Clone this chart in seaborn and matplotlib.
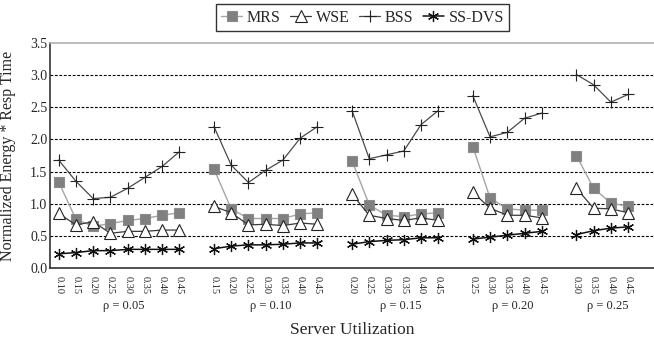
import numpy as np
import pandas as pd
import matplotlib
matplotlib.use("Agg")
import matplotlib.pyplot as plt
from matplotlib.lines import Line2D
from matplotlib.ticker import FixedLocator, NullFormatter
import seaborn as sns

# ---------------- data ----------------
groups = ["ρ = 0.05", "ρ = 0.10", "ρ = 0.15", "ρ = 0.20", "ρ = 0.25"]
utils = [
    [0.10, 0.15, 0.20, 0.25, 0.30, 0.35, 0.40, 0.45],
    [0.15, 0.20, 0.25, 0.30, 0.35, 0.40, 0.45],
    [0.20, 0.25, 0.30, 0.35, 0.40, 0.45],
    [0.25, 0.30, 0.35, 0.40, 0.45],
    [0.30, 0.35, 0.40, 0.45],
]
mrs = [
    [1.34, 0.76, 0.65, 0.69, 0.74, 0.77, 0.82, 0.86],
    [1.54, 0.92, 0.77, 0.77, 0.77, 0.84, 0.86],
    [1.67, 0.98, 0.82, 0.80, 0.84, 0.86],
    [1.89, 1.09, 0.92, 0.90, 0.90],
    [1.75, 1.24, 1.01, 0.96],
]
wse = [
    [0.85, 0.67, 0.72, 0.54, 0.57, 0.57, 0.59, 0.59],
    [0.96, 0.86, 0.67, 0.68, 0.66, 0.70, 0.68],
    [1.15, 0.82, 0.77, 0.74, 0.78, 0.74],
    [1.18, 0.93, 0.82, 0.82, 0.78],
    [1.24, 0.93, 0.92, 0.86],
]
bss = [
    [1.68, 1.35, 1.08, 1.10, 1.24, 1.41, 1.58, 1.81],
    [2.20, 1.60, 1.33, 1.52, 1.68, 2.02, 2.20],
    [2.45, 1.70, 1.76, 1.82, 2.23, 2.45],
    [2.68, 2.04, 2.11, 2.33, 2.41],
    [3.01, 2.85, 2.58, 2.70],
]
ssdvs = [
    [0.22, 0.24, 0.27, 0.27, 0.29, 0.29, 0.29, 0.29],
    [0.30, 0.34, 0.36, 0.36, 0.37, 0.39, 0.39],
    [0.37, 0.41, 0.43, 0.44, 0.47, 0.47],
    [0.45, 0.48, 0.51, 0.54, 0.57],
    [0.52, 0.58, 0.62, 0.64],
]
series_names = ["MRS", "WSE", "BSS", "SS-DVS"]
series_values = [mrs, wse, bss, ssdvs]

# ---------------- long-form table ----------------
rows = []
offset = 0
group_centers = []
for gi, (g, us) in enumerate(zip(groups, utils)):
    positions = [offset + k for k in range(len(us))]
    group_centers.append(np.mean(positions))
    for name, vals in zip(series_names, series_values):
        for p, u, v in zip(positions, us, vals[gi]):
            rows.append(dict(series=name, group=g, pos=p, util=u, value=v))
    offset += len(us) + 1  # one empty slot between groups
df = pd.DataFrame(rows)
n_slots = offset - 1

# ---------------- style ----------------
sns.set_style("white")
plt.rcParams["font.family"] = ["Liberation Serif", "DejaVu Serif"]

styles = {
    "MRS": dict(color="#a6a6a6", marker="s", markersize=7, markerfacecolor="#808080",
                markeredgecolor="#8c8c8c", markeredgewidth=0.8, linewidth=1.0),
    "WSE": dict(color="#3a3a3a", marker="^", markersize=9, markerfacecolor="white",
                markeredgecolor="#222222", markeredgewidth=0.8, linewidth=0.9),
    "BSS": dict(color="#4a4a4a", marker="+", markersize=9, markerfacecolor="none",
                markeredgecolor="#222222", markeredgewidth=0.8, linewidth=0.9),
    "SS-DVS": dict(color="#111111", marker=(6, 2, 0), markersize=8, markerfacecolor="none",
                   markeredgecolor="#111111", markeredgewidth=0.9, linewidth=1.1),
}

fig = plt.figure(figsize=(6.54, 3.47), dpi=100)
ax = fig.add_axes([50 / 654, 1 - 268 / 347, 1 - 50 / 654, (268 - 43) / 347])

for name in series_names:
    for g in groups:
        sub = df[(df.series == name) & (df.group == g)]
        sns.lineplot(data=sub, x="pos", y="value", ax=ax, legend=False,
                     estimator=None, sort=False, **styles[name])

# axes limits / grid
ax.set_xlim(-0.5, n_slots + 0.5)
ax.set_ylim(0, 3.5)
ax.set_yticks(np.arange(0, 3.51, 0.5))
ax.set_yticklabels([f"{v:.1f}" for v in np.arange(0, 3.51, 0.5)], fontsize=10)
for yv in np.arange(0.5, 3.01, 0.5):
    ax.axhline(yv, color="black", linewidth=0.8, linestyle=(0, (2.5, 1.5)), zorder=0)

# x ticks: labels at data positions, marks at slot boundaries
ticks = df.drop_duplicates("pos")
ax.set_xticks(ticks["pos"].values)
ax.set_xticklabels([f"{u:.2f}" for u in ticks["util"].values], rotation=270, fontsize=7.5)
ax.tick_params(axis="x", which="major", length=0, pad=6)
ax.xaxis.set_minor_locator(FixedLocator(np.arange(-0.5, n_slots + 1, 1.0)))
ax.xaxis.set_minor_formatter(NullFormatter())
ax.tick_params(axis="x", which="minor", length=3, width=0.8, color="#333333", direction="out")
ax.tick_params(axis="y", length=0, pad=2)

for xc, g in zip(group_centers, groups):
    ax.text(xc + 0.3, -0.17, g, transform=ax.get_xaxis_transform(),
            ha="center", va="center", fontsize=9)

ax.set_xlabel("Server Utilization", fontsize=12.5, labelpad=0)
ax.xaxis.set_label_coords(0.5, -0.24)
ax.set_ylabel("Normalized Energy * Resp Time", fontsize=11.5, labelpad=2)
ax.yaxis.set_label_coords(-0.056, 0.5)

for s in ["left", "bottom"]:
    ax.spines[s].set_color("#333333")
    ax.spines[s].set_linewidth(1.2)
ax.spines["top"].set_color("#b0b0b0")
ax.spines["top"].set_linewidth(1.2)
ax.spines["right"].set_visible(False)

handles = [Line2D([], [], **styles[n]) for n in series_names]
leg = fig.legend(handles, series_names, loc="upper center",
                 bbox_to_anchor=(362.5 / 654, 1 - 4 / 347), ncol=4, fontsize=11.5,
                 frameon=True, fancybox=False, edgecolor="black", handlelength=1.3,
                 handletextpad=0.3, columnspacing=0.6, borderpad=0.35, borderaxespad=0)
leg.get_frame().set_linewidth(1.0)

fig.savefig("out.png", dpi=100)
